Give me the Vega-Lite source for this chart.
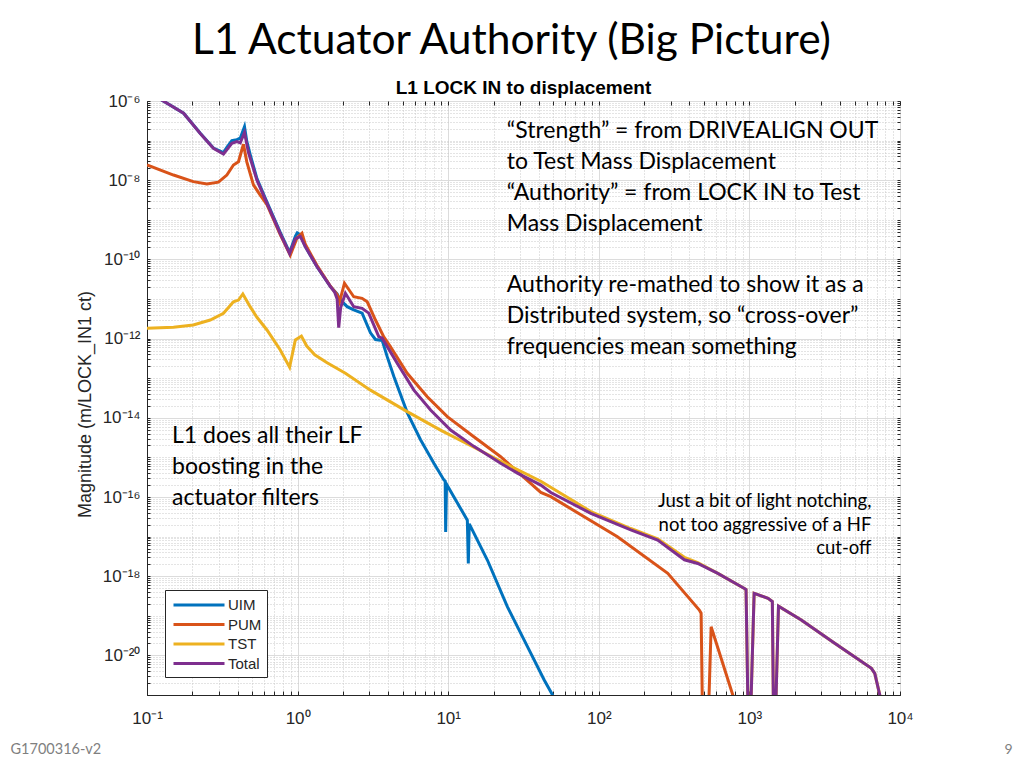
{
  "$schema": "https://vega.github.io/schema/vega-lite/v6.json",
  "width": 753,
  "height": 594,
  "autosize": {"type": "none"},
  "padding": {"left": 147, "top": 101, "right": 124, "bottom": 73},
  "background": "white",
  "title": {
    "text": "L1 Actuator Authority (Big Picture)",
    "anchor": "middle",
    "frame": "group",
    "font": "Lato",
    "fontSize": 42.5,
    "fontWeight": "normal",
    "color": "#000000",
    "dx": -12,
    "offset": 16
  },
  "config": {
    "view": {"stroke": "#262626", "strokeWidth": 1},
    "legend": {
      "orient": "bottom-left",
      "offset": 18,
      "strokeColor": "#262626",
      "fillColor": "white",
      "padding": 5,
      "symbolType": "M-3,0H3",
      "symbolSize": 289,
      "symbolOffset": 19,
      "symbolStrokeWidth": 3,
      "labelOffset": 19,
      "labelFont": "Liberation Sans",
      "labelFontSize": 15,
      "labelColor": "#262626",
      "rowPadding": 1.5
    }
  },
  "datasets": {
    "curves": [
      {"series": "UIM", "freq": 0.1, "mag": 1.8e-6},
      {"series": "UIM", "freq": 0.125, "mag": 1.06e-6},
      {"series": "UIM", "freq": 0.175, "mag": 4.9e-7},
      {"series": "UIM", "freq": 0.225, "mag": 1.55e-7},
      {"series": "UIM", "freq": 0.276, "mag": 6.5e-8},
      {"series": "UIM", "freq": 0.322, "mag": 5.0e-8},
      {"series": "UIM", "freq": 0.339, "mag": 6.8e-8},
      {"series": "UIM", "freq": 0.366, "mag": 1.0e-7},
      {"series": "UIM", "freq": 0.395, "mag": 1.06e-7},
      {"series": "UIM", "freq": 0.416, "mag": 1.15e-7},
      {"series": "UIM", "freq": 0.444, "mag": 2.25e-7},
      {"series": "UIM", "freq": 0.46, "mag": 9.5e-8},
      {"series": "UIM", "freq": 0.484, "mag": 4.5e-8},
      {"series": "UIM", "freq": 0.537, "mag": 1.1e-8},
      {"series": "UIM", "freq": 0.626, "mag": 2.8e-9},
      {"series": "UIM", "freq": 0.767, "mag": 4.8e-10},
      {"series": "UIM", "freq": 0.885, "mag": 1.5e-10},
      {"series": "UIM", "freq": 0.966, "mag": 3.8e-10},
      {"series": "UIM", "freq": 0.995, "mag": 4.7e-10},
      {"series": "UIM", "freq": 1.042, "mag": 4.2e-10},
      {"series": "UIM", "freq": 1.125, "mag": 2.1e-10},
      {"series": "UIM", "freq": 1.346, "mag": 6.5e-11},
      {"series": "UIM", "freq": 1.652, "mag": 2.05e-11},
      {"series": "UIM", "freq": 1.829, "mag": 1.35e-11},
      {"series": "UIM", "freq": 1.9, "mag": 1.0e-11},
      {"series": "UIM", "freq": 2.133, "mag": 6.4e-12},
      {"series": "UIM", "freq": 2.359, "mag": 5.3e-12},
      {"series": "UIM", "freq": 2.682, "mag": 4.4e-12},
      {"series": "UIM", "freq": 3.046, "mag": 1.4e-12},
      {"series": "UIM", "freq": 3.289, "mag": 9.5e-13},
      {"series": "UIM", "freq": 3.644, "mag": 9.0e-13},
      {"series": "UIM", "freq": 3.934, "mag": 3.5e-13},
      {"series": "UIM", "freq": 4.357, "mag": 1.1e-13},
      {"series": "UIM", "freq": 5.344, "mag": 1.35e-14},
      {"series": "UIM", "freq": 6.551, "mag": 2.8e-15},
      {"series": "UIM", "freq": 8.035, "mag": 7.1e-16},
      {"series": "UIM", "freq": 9.359, "mag": 2.7e-16},
      {"series": "UIM", "freq": 9.55, "mag": 2.5e-16},
      {"series": "UIM", "freq": 9.62, "mag": 1.3e-17},
      {"series": "UIM", "freq": 9.75, "mag": 2.1e-16},
      {"series": "UIM", "freq": 13.4, "mag": 2.6e-17},
      {"series": "UIM", "freq": 13.6, "mag": 2.1e-18},
      {"series": "UIM", "freq": 13.8, "mag": 2.1e-17},
      {"series": "UIM", "freq": 18.2, "mag": 2.56e-18},
      {"series": "UIM", "freq": 24.7, "mag": 1.7e-19},
      {"series": "UIM", "freq": 33.6, "mag": 1.66e-20},
      {"series": "UIM", "freq": 43.4, "mag": 2.4e-21},
      {"series": "UIM", "freq": 49.3, "mag": 1e-21},
      {"series": "UIM", "freq": 55, "mag": 4e-22},

      {"series": "PUM", "freq": 0.1, "mag": 2.42e-8},
      {"series": "PUM", "freq": 0.15, "mag": 1.35e-8},
      {"series": "PUM", "freq": 0.203, "mag": 9.2e-9},
      {"series": "PUM", "freq": 0.25, "mag": 8.0e-9},
      {"series": "PUM", "freq": 0.298, "mag": 8.9e-9},
      {"series": "PUM", "freq": 0.339, "mag": 1.35e-8},
      {"series": "PUM", "freq": 0.375, "mag": 2.42e-8},
      {"series": "PUM", "freq": 0.405, "mag": 2.93e-8},
      {"series": "PUM", "freq": 0.437, "mag": 8.1e-8},
      {"series": "PUM", "freq": 0.46, "mag": 2.9e-8},
      {"series": "PUM", "freq": 0.509, "mag": 7.6e-9},
      {"series": "PUM", "freq": 0.565, "mag": 4.2e-9},
      {"series": "PUM", "freq": 0.626, "mag": 2.4e-9},
      {"series": "PUM", "freq": 0.767, "mag": 4.2e-10},
      {"series": "PUM", "freq": 0.894, "mag": 1.28e-10},
      {"series": "PUM", "freq": 0.991, "mag": 3.5e-10},
      {"series": "PUM", "freq": 1.069, "mag": 4.6e-10},
      {"series": "PUM", "freq": 1.125, "mag": 2.4e-10},
      {"series": "PUM", "freq": 1.346, "mag": 7.0e-11},
      {"series": "PUM", "freq": 1.652, "mag": 2.1e-11},
      {"series": "PUM", "freq": 1.829, "mag": 1.3e-11},
      {"series": "PUM", "freq": 1.9, "mag": 8.5e-12},
      {"series": "PUM", "freq": 2.047, "mag": 2.5e-11},
      {"series": "PUM", "freq": 2.36, "mag": 1.14e-11},
      {"series": "PUM", "freq": 2.68, "mag": 1.04e-11},
      {"series": "PUM", "freq": 2.9, "mag": 8.5e-12},
      {"series": "PUM", "freq": 3.289, "mag": 2.95e-12},
      {"series": "PUM", "freq": 3.735, "mag": 1.1e-12},
      {"series": "PUM", "freq": 4.139, "mag": 6.2e-13},
      {"series": "PUM", "freq": 5.344, "mag": 1.33e-13},
      {"series": "PUM", "freq": 7.258, "mag": 3.4e-14},
      {"series": "PUM", "freq": 9.86, "mag": 1.07e-14},
      {"series": "PUM", "freq": 14.8, "mag": 3.33e-15},
      {"series": "PUM", "freq": 22.3, "mag": 1.04e-15},
      {"series": "PUM", "freq": 41.2, "mag": 1.3e-16},
      {"series": "PUM", "freq": 48, "mag": 1.02e-16},
      {"series": "PUM", "freq": 133, "mag": 9.9e-18},
      {"series": "PUM", "freq": 287, "mag": 1.18e-18},
      {"series": "PUM", "freq": 465, "mag": 1.4e-19},
      {"series": "PUM", "freq": 478, "mag": 1.16e-19},
      {"series": "PUM", "freq": 490, "mag": 1e-22},
      {"series": "PUM", "freq": 530, "mag": 1e-22},
      {"series": "PUM", "freq": 557, "mag": 5.3e-20},
      {"series": "PUM", "freq": 776, "mag": 1e-21},
      {"series": "PUM", "freq": 850, "mag": 1e-22},

      {"series": "TST", "freq": 0.1, "mag": 1.82e-12},
      {"series": "TST", "freq": 0.15, "mag": 1.93e-12},
      {"series": "TST", "freq": 0.203, "mag": 2.2e-12},
      {"series": "TST", "freq": 0.263, "mag": 2.95e-12},
      {"series": "TST", "freq": 0.322, "mag": 4.35e-12},
      {"series": "TST", "freq": 0.375, "mag": 8.5e-12},
      {"series": "TST", "freq": 0.405, "mag": 9.4e-12},
      {"series": "TST", "freq": 0.433, "mag": 1.34e-11},
      {"series": "TST", "freq": 0.484, "mag": 6.4e-12},
      {"series": "TST", "freq": 0.537, "mag": 3.45e-12},
      {"series": "TST", "freq": 0.626, "mag": 1.65e-12},
      {"series": "TST", "freq": 0.767, "mag": 5.15e-13},
      {"series": "TST", "freq": 0.885, "mag": 1.9e-13},
      {"series": "TST", "freq": 0.966, "mag": 9.2e-13},
      {"series": "TST", "freq": 1.06, "mag": 1.16e-12},
      {"series": "TST", "freq": 1.15, "mag": 6.5e-13},
      {"series": "TST", "freq": 1.3, "mag": 3.9e-13},
      {"series": "TST", "freq": 1.57, "mag": 2.45e-13},
      {"series": "TST", "freq": 2.077, "mag": 1.33e-13},
      {"series": "TST", "freq": 3.046, "mag": 5.0e-14},
      {"series": "TST", "freq": 5.344, "mag": 1.43e-14},
      {"series": "TST", "freq": 8.897, "mag": 4.9e-15},
      {"series": "TST", "freq": 14.8, "mag": 1.8e-15},
      {"series": "TST", "freq": 24.7, "mag": 6.6e-16},
      {"series": "TST", "freq": 41.2, "mag": 2.5e-16},
      {"series": "TST", "freq": 88.5, "mag": 4.3e-17},
      {"series": "TST", "freq": 163, "mag": 1.6e-17},
      {"series": "TST", "freq": 246, "mag": 8.8e-18},
      {"series": "TST", "freq": 370, "mag": 3.0e-18},
      {"series": "TST", "freq": 454, "mag": 2.2e-18},
      {"series": "TST", "freq": 617, "mag": 1.18e-18},
      {"series": "TST", "freq": 927, "mag": 4.9e-19},
      {"series": "TST", "freq": 950, "mag": 4.6e-19},
      {"series": "TST", "freq": 985, "mag": 1e-22},
      {"series": "TST", "freq": 1010, "mag": 1e-22},
      {"series": "TST", "freq": 1075, "mag": 3.7e-19},
      {"series": "TST", "freq": 1330, "mag": 2.77e-19},
      {"series": "TST", "freq": 1420, "mag": 2.3e-19},
      {"series": "TST", "freq": 1450, "mag": 1e-22},
      {"series": "TST", "freq": 1480, "mag": 1e-22},
      {"series": "TST", "freq": 1560, "mag": 1.75e-19},
      {"series": "TST", "freq": 2211, "mag": 7.8e-20},
      {"series": "TST", "freq": 3684, "mag": 2.02e-20},
      {"series": "TST", "freq": 6459, "mag": 4.7e-21},
      {"series": "TST", "freq": 6800, "mag": 3.5e-21},
      {"series": "TST", "freq": 7340, "mag": 1e-21},
      {"series": "TST", "freq": 7600, "mag": 1e-22},

      {"series": "Total", "freq": 0.1, "mag": 1.8e-6},
      {"series": "Total", "freq": 0.125, "mag": 1.06e-6},
      {"series": "Total", "freq": 0.175, "mag": 4.9e-7},
      {"series": "Total", "freq": 0.225, "mag": 1.53e-7},
      {"series": "Total", "freq": 0.276, "mag": 6.4e-8},
      {"series": "Total", "freq": 0.322, "mag": 4.6e-8},
      {"series": "Total", "freq": 0.366, "mag": 8.5e-8},
      {"series": "Total", "freq": 0.395, "mag": 9.4e-8},
      {"series": "Total", "freq": 0.416, "mag": 8.8e-8},
      {"series": "Total", "freq": 0.444, "mag": 1.6e-7},
      {"series": "Total", "freq": 0.472, "mag": 5.0e-8},
      {"series": "Total", "freq": 0.537, "mag": 1.0e-8},
      {"series": "Total", "freq": 0.626, "mag": 2.6e-9},
      {"series": "Total", "freq": 0.767, "mag": 4.5e-10},
      {"series": "Total", "freq": 0.885, "mag": 1.4e-10},
      {"series": "Total", "freq": 0.966, "mag": 3.3e-10},
      {"series": "Total", "freq": 1.042, "mag": 3.8e-10},
      {"series": "Total", "freq": 1.125, "mag": 2.1e-10},
      {"series": "Total", "freq": 1.346, "mag": 6.5e-11},
      {"series": "Total", "freq": 1.652, "mag": 2.05e-11},
      {"series": "Total", "freq": 1.76, "mag": 1.5e-11},
      {"series": "Total", "freq": 1.83, "mag": 1.0e-11},
      {"series": "Total", "freq": 1.875, "mag": 1.9e-12},
      {"series": "Total", "freq": 1.93, "mag": 6e-12},
      {"series": "Total", "freq": 2.077, "mag": 1.4e-11},
      {"series": "Total", "freq": 2.359, "mag": 6.4e-12},
      {"series": "Total", "freq": 2.682, "mag": 5.8e-12},
      {"series": "Total", "freq": 2.968, "mag": 4.4e-12},
      {"series": "Total", "freq": 3.458, "mag": 1.12e-12},
      {"series": "Total", "freq": 3.644, "mag": 1.02e-12},
      {"series": "Total", "freq": 4.585, "mag": 2.4e-13},
      {"series": "Total", "freq": 5.918, "mag": 5.0e-14},
      {"series": "Total", "freq": 7.637, "mag": 1.57e-14},
      {"series": "Total", "freq": 10.37, "mag": 4.9e-15},
      {"series": "Total", "freq": 14.8, "mag": 1.9e-15},
      {"series": "Total", "freq": 22.3, "mag": 7.1e-16},
      {"series": "Total", "freq": 28.8, "mag": 4.0e-16},
      {"series": "Total", "freq": 41.2, "mag": 2.0e-16},
      {"series": "Total", "freq": 48, "mag": 1.3e-16},
      {"series": "Total", "freq": 88.5, "mag": 3.87e-17},
      {"series": "Total", "freq": 163, "mag": 1.47e-17},
      {"series": "Total", "freq": 246, "mag": 8.2e-18},
      {"series": "Total", "freq": 370, "mag": 2.6e-18},
      {"series": "Total", "freq": 454, "mag": 2.1e-18},
      {"series": "Total", "freq": 617, "mag": 1.18e-18},
      {"series": "Total", "freq": 927, "mag": 4.9e-19},
      {"series": "Total", "freq": 950, "mag": 4.6e-19},
      {"series": "Total", "freq": 985, "mag": 1e-22},
      {"series": "Total", "freq": 1010, "mag": 1e-22},
      {"series": "Total", "freq": 1075, "mag": 3.7e-19},
      {"series": "Total", "freq": 1330, "mag": 2.77e-19},
      {"series": "Total", "freq": 1420, "mag": 2.3e-19},
      {"series": "Total", "freq": 1450, "mag": 1e-22},
      {"series": "Total", "freq": 1480, "mag": 1e-22},
      {"series": "Total", "freq": 1560, "mag": 1.75e-19},
      {"series": "Total", "freq": 2211, "mag": 7.8e-20},
      {"series": "Total", "freq": 3684, "mag": 2.02e-20},
      {"series": "Total", "freq": 6459, "mag": 4.7e-21},
      {"series": "Total", "freq": 6800, "mag": 3.5e-21},
      {"series": "Total", "freq": 7340, "mag": 1e-21},
      {"series": "Total", "freq": 7600, "mag": 1e-22}
    ],
    "notes": [
      {"note": "block1a", "freq": 24.5, "mag": 1.16e-7, "label": ["“Strength” = from DRIVEALIGN OUT", "to Test Mass Displacement", "“Authority” = from LOCK IN to Test", "Mass Displacement"]},
      {"note": "block1b", "freq": 24.5, "mag": 1.5e-11, "label": ["Authority re-mathed to show it as a", "Distributed system, so “cross-over”", "frequencies mean something"]},
      {"note": "block2", "freq": 0.1466, "mag": 2.31e-15, "label": ["L1 does all their LF", "boosting in the", "actuator filters"]}
    ],
    "notes2": [
      {"note": "block3", "freq": 6457, "mag": 5.58e-17, "label": ["Just a bit of light notching,", "not too aggressive of a HF", "cut-off"]}
    ]
  },
  "resolve": {"axis": {"x": "independent", "y": "independent"}},
  "layer": [
    {
      "data": {"name": "curves"},
      "transform": [{"filter": "datum.series === 'UIM'"}],
      "mark": {"type": "line", "strokeWidth": 3, "clip": true},
      "encoding": {
        "x": {
          "field": "freq", "type": "quantitative",
          "scale": {"type": "log", "domain": [0.1, 10000], "nice": false},
          "axis": {
            "values": [0.1,0.2,0.3,0.4,0.5,0.6,0.7,0.8,0.9,1,2,3,4,5,6,7,8,9,10,20,30,40,50,60,70,80,90,100,200,300,400,500,600,700,800,900,1000,2000,3000,4000,5000,6000,7000,8000,9000,10000],
            "labelExpr": "abs(log(datum.value)/LN10 - round(log(datum.value)/LN10)) < 0.001 ? '10' + (round(log(datum.value)/LN10) < 0 ? '⁻' : '') + (abs(round(log(datum.value)/LN10)) >= 10 ? substring('⁰¹²³⁴⁵⁶⁷⁸⁹', floor(abs(round(log(datum.value)/LN10))/10), floor(abs(round(log(datum.value)/LN10))/10) + 1) : '') + substring('⁰¹²³⁴⁵⁶⁷⁸⁹', abs(round(log(datum.value)/LN10)) % 10, abs(round(log(datum.value)/LN10)) % 10 + 1) : ''",
            "labelOverlap": false,
            "labelFlush": false,
            "labelFont": "Liberation Sans",
            "labelFontSize": 17,
            "labelColor": "#262626",
            "labelPadding": 19,
            "tickSize": -4,
            "tickColor": "#262626",
            "domainColor": "#262626",
            "grid": true,
            "gridColor": {"condition": {"test": "abs(log(datum.value)/LN10 - round(log(datum.value)/LN10)) < 0.001", "value": "#dcdcdc"}, "value": "#c8c8c8"},
            "gridDash": {"condition": {"test": "abs(log(datum.value)/LN10 - round(log(datum.value)/LN10)) < 0.001", "value": []}, "value": [1, 2]},
            "title": "G1700316-v2",
            "titleFont": "Lato",
            "titleFontSize": 14.5,
            "titleFontWeight": "normal",
            "titleColor": "#7f7f7f",
            "titleX": -137,
            "titleY": 54,
            "titleAlign": "left",
            "titleBaseline": "middle",
            "titleAngle": 0
          }
        },
        "y": {
          "field": "mag", "type": "quantitative",
          "scale": {"type": "log", "domain": [1e-21, 1e-6], "nice": false},
          "axis": {
            "values": [1e-21,2e-21,3e-21,4e-21,5e-21,6e-21,7e-21,8e-21,9e-21,1e-20,2e-20,3e-20,4e-20,5e-20,6e-20,7e-20,8e-20,9e-20,1e-19,2e-19,3e-19,4e-19,5e-19,6e-19,7e-19,8e-19,9e-19,1e-18,2e-18,3e-18,4e-18,5e-18,6e-18,7e-18,8e-18,9e-18,1e-17,2e-17,3e-17,4e-17,5e-17,6e-17,7e-17,8e-17,9e-17,1e-16,2e-16,3e-16,4e-16,5e-16,6e-16,7e-16,8e-16,9e-16,1e-15,2e-15,3e-15,4e-15,5e-15,6e-15,7e-15,8e-15,9e-15,1e-14,2e-14,3e-14,4e-14,5e-14,6e-14,7e-14,8e-14,9e-14,1e-13,2e-13,3e-13,4e-13,5e-13,6e-13,7e-13,8e-13,9e-13,1e-12,2e-12,3e-12,4e-12,5e-12,6e-12,7e-12,8e-12,9e-12,1e-11,2e-11,3e-11,4e-11,5e-11,6e-11,7e-11,8e-11,9e-11,1e-10,2e-10,3e-10,4e-10,5e-10,6e-10,7e-10,8e-10,9e-10,1e-9,2e-9,3e-9,4e-9,5e-9,6e-9,7e-9,8e-9,9e-9,1e-8,2e-8,3e-8,4e-8,5e-8,6e-8,7e-8,8e-8,9e-8,1e-7,2e-7,3e-7,4e-7,5e-7,6e-7,7e-7,8e-7,9e-7,1e-6],
            "labelExpr": "abs(log(datum.value)/LN10 - round(log(datum.value)/LN10)) < 0.001 && round(log(datum.value)/LN10) % 2 == 0 ? '10' + (round(log(datum.value)/LN10) < 0 ? '⁻' : '') + (abs(round(log(datum.value)/LN10)) >= 10 ? substring('⁰¹²³⁴⁵⁶⁷⁸⁹', floor(abs(round(log(datum.value)/LN10))/10), floor(abs(round(log(datum.value)/LN10))/10) + 1) : '') + substring('⁰¹²³⁴⁵⁶⁷⁸⁹', abs(round(log(datum.value)/LN10)) % 10, abs(round(log(datum.value)/LN10)) % 10 + 1) : ''",
            "labelOverlap": false,
            "labelFlush": false,
            "labelFont": "Liberation Sans",
            "labelFontSize": 17,
            "labelColor": "#262626",
            "labelPadding": 10,
            "tickSize": -3,
            "tickColor": "#262626",
            "domainColor": "#262626",
            "grid": true,
            "gridColor": {"condition": {"test": "abs(log(datum.value)/LN10 - round(log(datum.value)/LN10)) < 0.001 && round(log(datum.value)/LN10) % 2 == 0", "value": "#dcdcdc"}, "value": "#c8c8c8"},
            "gridDash": {"condition": {"test": "abs(log(datum.value)/LN10 - round(log(datum.value)/LN10)) < 0.001 && round(log(datum.value)/LN10) % 2 == 0", "value": []}, "value": [1, 2]},
            "title": "Magnitude (m/LOCK_IN1 ct)",
            "titleFont": "Liberation Sans",
            "titleFontSize": 18,
            "titleFontWeight": "normal",
            "titleColor": "#262626",
            "titleX": -62,
            "titleY": 303,
            "titleAlign": "center",
            "titleBaseline": "middle",
            "titleAngle": -90
          }
        },
        "color": {
          "field": "series", "type": "nominal",
          "scale": {"domain": ["UIM", "PUM", "TST", "Total"], "range": ["#0072BD", "#D95319", "#EDB120", "#7E2F8E"]},
          "legend": {"title": null}
        }
      }
    },
    {
      "data": {"name": "curves"},
      "transform": [{"filter": "datum.series === 'PUM'"}],
      "mark": {"type": "line", "strokeWidth": 3, "clip": true},
      "encoding": {
        "x": {"field": "freq", "type": "quantitative", "scale": {"type": "log", "domain": [0.1, 10000], "nice": false}, "axis": null},
        "y": {"field": "mag", "type": "quantitative", "scale": {"type": "log", "domain": [1e-21, 1e-6], "nice": false}, "axis": null},
        "color": {"field": "series", "type": "nominal", "legend": {"title": null}}
      }
    },
    {
      "data": {"name": "curves"},
      "transform": [{"filter": "datum.series === 'TST'"}],
      "mark": {"type": "line", "strokeWidth": 3, "clip": true},
      "encoding": {
        "x": {"field": "freq", "type": "quantitative", "scale": {"type": "log", "domain": [0.1, 10000], "nice": false}, "axis": null},
        "y": {"field": "mag", "type": "quantitative", "scale": {"type": "log", "domain": [1e-21, 1e-6], "nice": false}, "axis": null},
        "color": {"field": "series", "type": "nominal", "legend": {"title": null}}
      }
    },
    {
      "data": {"name": "curves"},
      "transform": [{"filter": "datum.series === 'Total'"}],
      "mark": {"type": "line", "strokeWidth": 3, "clip": true},
      "encoding": {
        "x": {
          "field": "freq", "type": "quantitative",
          "scale": {"type": "log", "domain": [0.1, 10000], "nice": false},
          "axis": {
            "orient": "top",
            "values": [0.1,0.2,0.3,0.4,0.5,0.6,0.7,0.8,0.9,1,2,3,4,5,6,7,8,9,10,20,30,40,50,60,70,80,90,100,200,300,400,500,600,700,800,900,1000,2000,3000,4000,5000,6000,7000,8000,9000,10000],
            "labels": false,
            "grid": false,
            "domain": false,
            "tickSize": -4,
            "tickColor": "#262626",
            "title": "L1 LOCK IN to displacement",
            "titleFont": "Liberation Sans",
            "titleFontSize": 19,
            "titleFontWeight": "bold",
            "titleColor": "#000000",
            "titleX": 376,
            "titleY": -14,
            "titleAlign": "center",
            "titleBaseline": "middle"
          }
        },
        "y": {
          "field": "mag", "type": "quantitative",
          "scale": {"type": "log", "domain": [1e-21, 1e-6], "nice": false},
          "axis": {
            "orient": "right",
            "values": [1e-21,2e-21,3e-21,4e-21,5e-21,6e-21,7e-21,8e-21,9e-21,1e-20,2e-20,3e-20,4e-20,5e-20,6e-20,7e-20,8e-20,9e-20,1e-19,2e-19,3e-19,4e-19,5e-19,6e-19,7e-19,8e-19,9e-19,1e-18,2e-18,3e-18,4e-18,5e-18,6e-18,7e-18,8e-18,9e-18,1e-17,2e-17,3e-17,4e-17,5e-17,6e-17,7e-17,8e-17,9e-17,1e-16,2e-16,3e-16,4e-16,5e-16,6e-16,7e-16,8e-16,9e-16,1e-15,2e-15,3e-15,4e-15,5e-15,6e-15,7e-15,8e-15,9e-15,1e-14,2e-14,3e-14,4e-14,5e-14,6e-14,7e-14,8e-14,9e-14,1e-13,2e-13,3e-13,4e-13,5e-13,6e-13,7e-13,8e-13,9e-13,1e-12,2e-12,3e-12,4e-12,5e-12,6e-12,7e-12,8e-12,9e-12,1e-11,2e-11,3e-11,4e-11,5e-11,6e-11,7e-11,8e-11,9e-11,1e-10,2e-10,3e-10,4e-10,5e-10,6e-10,7e-10,8e-10,9e-10,1e-9,2e-9,3e-9,4e-9,5e-9,6e-9,7e-9,8e-9,9e-9,1e-8,2e-8,3e-8,4e-8,5e-8,6e-8,7e-8,8e-8,9e-8,1e-7,2e-7,3e-7,4e-7,5e-7,6e-7,7e-7,8e-7,9e-7,1e-6],
            "labels": false,
            "grid": false,
            "domain": false,
            "tickSize": -3,
            "tickColor": "#262626",
            "title": "9",
            "titleFont": "Lato",
            "titleFontSize": 14,
            "titleFontWeight": "normal",
            "titleColor": "#7f7f7f",
            "titleX": 108,
            "titleY": 648,
            "titleAngle": 0,
            "titleAlign": "center",
            "titleBaseline": "middle"
          }
        },
        "color": {"field": "series", "type": "nominal", "legend": {"title": null}}
      }
    },
    {
      "data": {"name": "notes"},
      "mark": {"type": "text", "align": "left", "baseline": "alphabetic", "font": "Lato", "fontSize": 23, "lineHeight": 31, "color": "#000000"},
      "encoding": {
        "x": {"field": "freq", "type": "quantitative", "scale": {"type": "log", "domain": [0.1, 10000], "nice": false}, "axis": null},
        "y": {"field": "mag", "type": "quantitative", "scale": {"type": "log", "domain": [1e-21, 1e-6], "nice": false}, "axis": null},
        "text": {"field": "label"}
      }
    },
    {
      "data": {"name": "notes2"},
      "mark": {"type": "text", "align": "right", "baseline": "alphabetic", "font": "Lato", "fontSize": 18.5, "lineHeight": 23.5, "color": "#000000"},
      "encoding": {
        "x": {"field": "freq", "type": "quantitative", "scale": {"type": "log", "domain": [0.1, 10000], "nice": false}, "axis": null},
        "y": {"field": "mag", "type": "quantitative", "scale": {"type": "log", "domain": [1e-21, 1e-6], "nice": false}, "axis": null},
        "text": {"field": "label"}
      }
    }
  ]
}
